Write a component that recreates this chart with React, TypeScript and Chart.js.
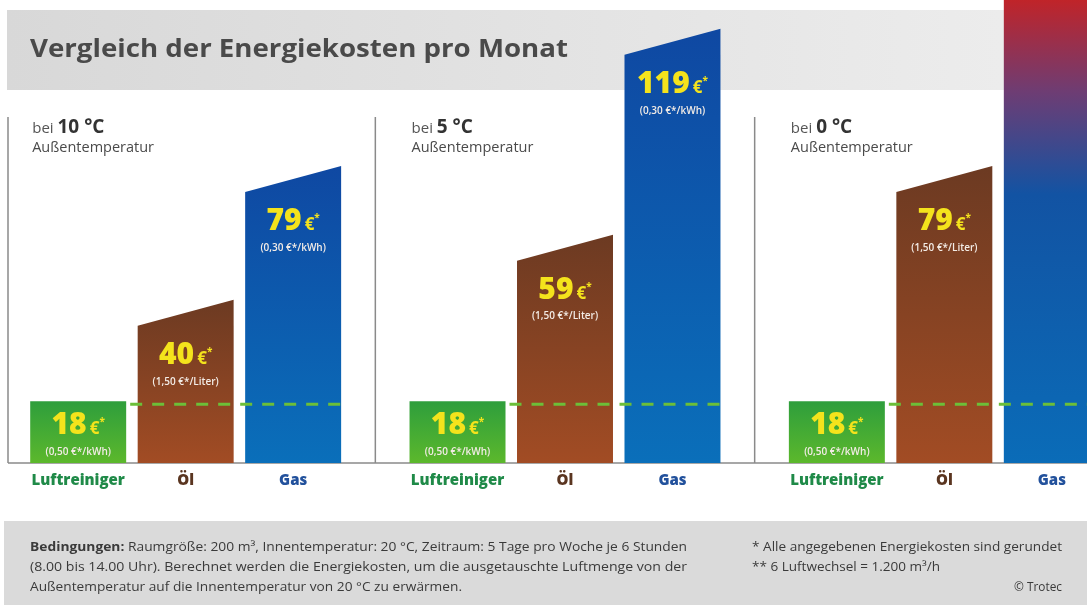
import React, { useEffect, useRef } from "react";
import { Chart, registerables } from "chart.js";

Chart.register(...registerables);

// ---------- data ----------
const panelTemps = ["10 °C", "5 °C", "0 °C"];
const seriesNames = ["Luftreiniger", "Öl", "Gas"];
const luftreinigerCosts = [18, 18, 18];
const oelCosts = [40, 59, 79];
const gasCosts = [79, 119, 158];
const unitPrices = ["(0,50 €*/kWh)", "(1,50 €*/Liter)", "(0,30 €*/kWh)"];
const yMax = 135;

const titleText = "Vergleich der Energiekosten pro Monat";
const footerLeft = [
  "(8.00 bis 14.00 Uhr). Berechnet werden die Energiekosten, um die ausgetauschte Luftmenge von der",
  "Außentemperatur auf die Innentemperatur von 20 °C zu erwärmen.",
];
const footerBold = "Bedingungen:";
const footerFirst = " Raumgröße: 200 m³, Innentemperatur: 20 °C, Zeitraum: 5 Tage pro Woche je 6 Stunden";
const footerRight = ["* Alle angegebenen Energiekosten sind gerundet", "** 6 Luftwechsel = 1.200 m³/h"];
const copyright = "© Trotec";

// ---------- style ----------
const OX = 4; // canvas is shifted 4px left of the page
const FONT = "'Open Sans', 'DejaVu Sans', sans-serif";
const NARROW = "'Liberation Sans Narrow', 'Open Sans', sans-serif";
const labelColors = ["#1f8a48", "#5a3520", "#22519c"];
const barGradients = [
  ["#2e9e3c", "#5cb82c"],
  ["#6c3a22", "#a24c24"],
  ["#0f48a2", "#0a6fba"],
];
const slants = [0, 26, 26];

function drawScaled(ctx: CanvasRenderingContext2D, parts: { t: string; f: string }[], x: number, y: number, width: number) {
  let total = 0;
  for (const p of parts) {
    ctx.font = p.f;
    total += ctx.measureText(p.t).width;
  }
  const s = width / total;
  ctx.save();
  ctx.translate(x, y);
  ctx.scale(s, 1);
  let cx = 0;
  for (const p of parts) {
    ctx.font = p.f;
    ctx.fillText(p.t, cx, 0);
    cx += ctx.measureText(p.t).width;
  }
  ctx.restore();
}

function drawValue(ctx: CanvasRenderingContext2D, cx: number, cy: number, v: number) {
  const num = String(v);
  const f1 = `800 30px ${FONT}`;
  const f2 = `700 17px ${FONT}`;
  const f3 = `700 10px ${FONT}`;
  ctx.font = f1;
  const w1 = ctx.measureText(num).width;
  ctx.font = f2;
  const w2 = ctx.measureText("€").width;
  ctx.font = f3;
  const w3 = ctx.measureText("*").width;
  const gap = 3;
  const total = w1 + gap + w2 + w3;
  let x = cx - total / 2;
  const base = cy + 11;
  ctx.fillStyle = "#f4e31c";
  ctx.textAlign = "left";
  ctx.textBaseline = "alphabetic";
  ctx.font = f1;
  ctx.fillText(num, x, base);
  x += w1 + gap;
  ctx.font = f2;
  ctx.fillText("€", x, base);
  x += w2;
  ctx.font = f3;
  ctx.fillText("*", x, base - 9);
}

const infographicPlugin = {
  id: "infographic",
  beforeDatasetsDraw(chart: any) {
    const ctx: CanvasRenderingContext2D = chart.ctx;
    const { chartArea } = chart;
    const W = chart.width;
    const H = chart.height;
    ctx.save();
    ctx.fillStyle = "#ffffff";
    ctx.fillRect(0, 0, W, H);

    // title band
    const g = ctx.createLinearGradient(OX + 7, 0, OX + 1003, 0);
    g.addColorStop(0, "#d8d8d8");
    g.addColorStop(1, "#ececec");
    ctx.fillStyle = g;
    ctx.fillRect(OX + 7, 10, W, 80);
    ctx.fillStyle = "#4a4a4a";
    ctx.textBaseline = "middle";
    drawScaled(ctx, [{ t: titleText, f: `700 25px ${FONT}` }], OX + 30, 50, 538);

    // footer band
    ctx.fillStyle = "#dadada";
    ctx.fillRect(OX + 4, 521, W, H - 521);
    ctx.fillStyle = "#3a3a3a";
    ctx.textBaseline = "middle";
    drawScaled(ctx, [{ t: footerBold, f: `700 12px ${NARROW}` }, { t: footerFirst, f: `400 12px ${NARROW}` }], OX + 30, 548, 657);
    drawScaled(ctx, [{ t: footerLeft[0], f: `400 12px ${NARROW}` }], OX + 30, 568, 657);
    drawScaled(ctx, [{ t: footerLeft[1], f: `400 12px ${NARROW}` }], OX + 30, 588, 432);
    drawScaled(ctx, [{ t: footerRight[0], f: `400 12px ${NARROW}` }], OX + 752, 548, 310);
    drawScaled(ctx, [{ t: footerRight[1], f: `400 12px ${NARROW}` }], OX + 752, 568, 188);
    drawScaled(ctx, [{ t: copyright, f: `400 12px ${NARROW}` }], OX + 1014, 588, 48);

    // axes lines
    const xs = chart.scales.x;
    const base = chartArea.bottom;
    ctx.strokeStyle = "#8a8a8a";
    ctx.lineWidth = 1.5;
    ctx.beginPath();
    ctx.moveTo(OX + 8, base);
    ctx.lineTo(W, base);
    ctx.moveTo(OX + 8, 117);
    ctx.lineTo(OX + 8, base);
    for (let i = 0; i < panelTemps.length - 1; i++) {
      const bx = (xs.getPixelForValue(i) + xs.getPixelForValue(i + 1)) / 2;
      ctx.moveTo(bx, 117);
      ctx.lineTo(bx, base);
    }
    ctx.stroke();

    // panel headers and category labels
    const metas = [0, 1, 2].map((d) => chart.getDatasetMeta(d));
    for (let i = 0; i < panelTemps.length; i++) {
      const first = metas[0].data[i];
      const left = first.x - first.width / 2 + 2;
      ctx.textAlign = "left";
      ctx.textBaseline = "alphabetic";
      ctx.fillStyle = "#555555";
      ctx.font = `400 15px ${FONT}`;
      ctx.fillText("bei ", left, 133);
      const wb = ctx.measureText("bei ").width;
      ctx.fillStyle = "#333333";
      ctx.font = `700 19px ${FONT}`;
      ctx.fillText(panelTemps[i], left + wb, 133);
      ctx.fillStyle = "#4a4a4a";
      ctx.font = `400 14.5px ${FONT}`;
      ctx.fillText("Außentemperatur", left, 152);
      for (let d = 0; d < 3; d++) {
        const el = metas[d].data[i];
        ctx.textAlign = "center";
        ctx.textBaseline = "middle";
        ctx.fillStyle = labelColors[d];
        ctx.font = `800 15px ${FONT}`;
        ctx.fillText(seriesNames[d], el.x, 481);
      }
    }
    ctx.restore();
  },
  afterDatasetsDraw(chart: any) {
    const ctx: CanvasRenderingContext2D = chart.ctx;
    const { chartArea } = chart;
    ctx.save();
    const metas = [0, 1, 2].map((d) => chart.getDatasetMeta(d));
    const datasets = chart.data.datasets;
    for (let i = 0; i < panelTemps.length; i++) {
      for (let d = 0; d < 3; d++) {
        const el = metas[d].data[i];
        const l = el.x - el.width / 2;
        const r = el.x + el.width / 2;
        const top = el.y;
        const base = el.base;
        const overflow = top < chartArea.top;
        let grad;
        if (overflow) {
          grad = ctx.createLinearGradient(0, chartArea.top, 0, base);
          grad.addColorStop(0, "#c02429");
          grad.addColorStop(0.2, "#6d3d74");
          grad.addColorStop(0.42, "#1253a3");
          grad.addColorStop(1, "#0a6cb8");
        } else {
          grad = ctx.createLinearGradient(0, top - slants[d], 0, base);
          grad.addColorStop(0, barGradients[d][0]);
          grad.addColorStop(1, barGradients[d][1]);
        }
        ctx.fillStyle = grad;
        ctx.beginPath();
        ctx.moveTo(l, base);
        ctx.lineTo(l, top);
        ctx.lineTo(r, overflow ? top : top - slants[d]);
        ctx.lineTo(r, base);
        ctx.closePath();
        ctx.fill();
      }
    }
    // dashed reference line at the Luftreiniger level
    for (let i = 0; i < panelTemps.length; i++) {
      const g0 = metas[0].data[i];
      const g2 = metas[2].data[i];
      ctx.strokeStyle = "#6cbf38";
      ctx.lineWidth = 3;
      ctx.setLineDash([12, 10]);
      ctx.beginPath();
      ctx.moveTo(g0.x + g0.width / 2 + 4, g0.y + 3);
      ctx.lineTo(g2.x + g2.width / 2, g0.y + 3);
      ctx.stroke();
    }
    ctx.setLineDash([]);
    // value labels
    for (let i = 0; i < panelTemps.length; i++) {
      for (let d = 0; d < 3; d++) {
        const el = metas[d].data[i];
        const v = datasets[d].data[i];
        const off = d === 0 ? 22 : 27;
        drawValue(ctx, el.x, el.y + off, v);
        ctx.fillStyle = "#f3ece6";
        ctx.font = `600 10px ${FONT}`;
        ctx.textAlign = "center";
        ctx.textBaseline = "middle";
        ctx.fillText(unitPrices[d], el.x, el.y + off + 29);
      }
    }
    ctx.restore();
  },
};

export default function App() {
  const ref = useRef<HTMLCanvasElement>(null);
  useEffect(() => {
    document.body.style.margin = "0";
    const chart = new Chart(ref.current as HTMLCanvasElement, {
      type: "bar",
      data: {
        labels: panelTemps,
        datasets: [
          { label: seriesNames[0], data: luftreinigerCosts, backgroundColor: "rgba(0,0,0,0)" },
          { label: seriesNames[1], data: oelCosts, backgroundColor: "rgba(0,0,0,0)" },
          { label: seriesNames[2], data: gasCosts, backgroundColor: "rgba(0,0,0,0)" },
        ],
      },
      options: {
        responsive: false,
        animation: false,
        devicePixelRatio: 1,
        layout: { padding: { left: 0, right: 2, top: 0, bottom: 142 } },
        datasets: { bar: { categoryPercentage: 0.85, barPercentage: 0.893 } },
        scales: {
          x: { display: false, offset: true },
          y: { display: false, min: 0, max: yMax },
        },
        plugins: { legend: { display: false }, tooltip: { enabled: false }, title: { display: false } },
      },
      plugins: [infographicPlugin],
    } as any);
    return () => chart.destroy();
  }, []);
  return (
    <div style={{ position: "fixed", left: 0, top: 0, width: 1087, height: 605, overflow: "hidden", background: "#fff" }}>
      <canvas ref={ref} width={1140} height={605} style={{ position: "absolute", left: -OX, top: 0, width: 1140, height: 605 }} />
    </div>
  );
}
